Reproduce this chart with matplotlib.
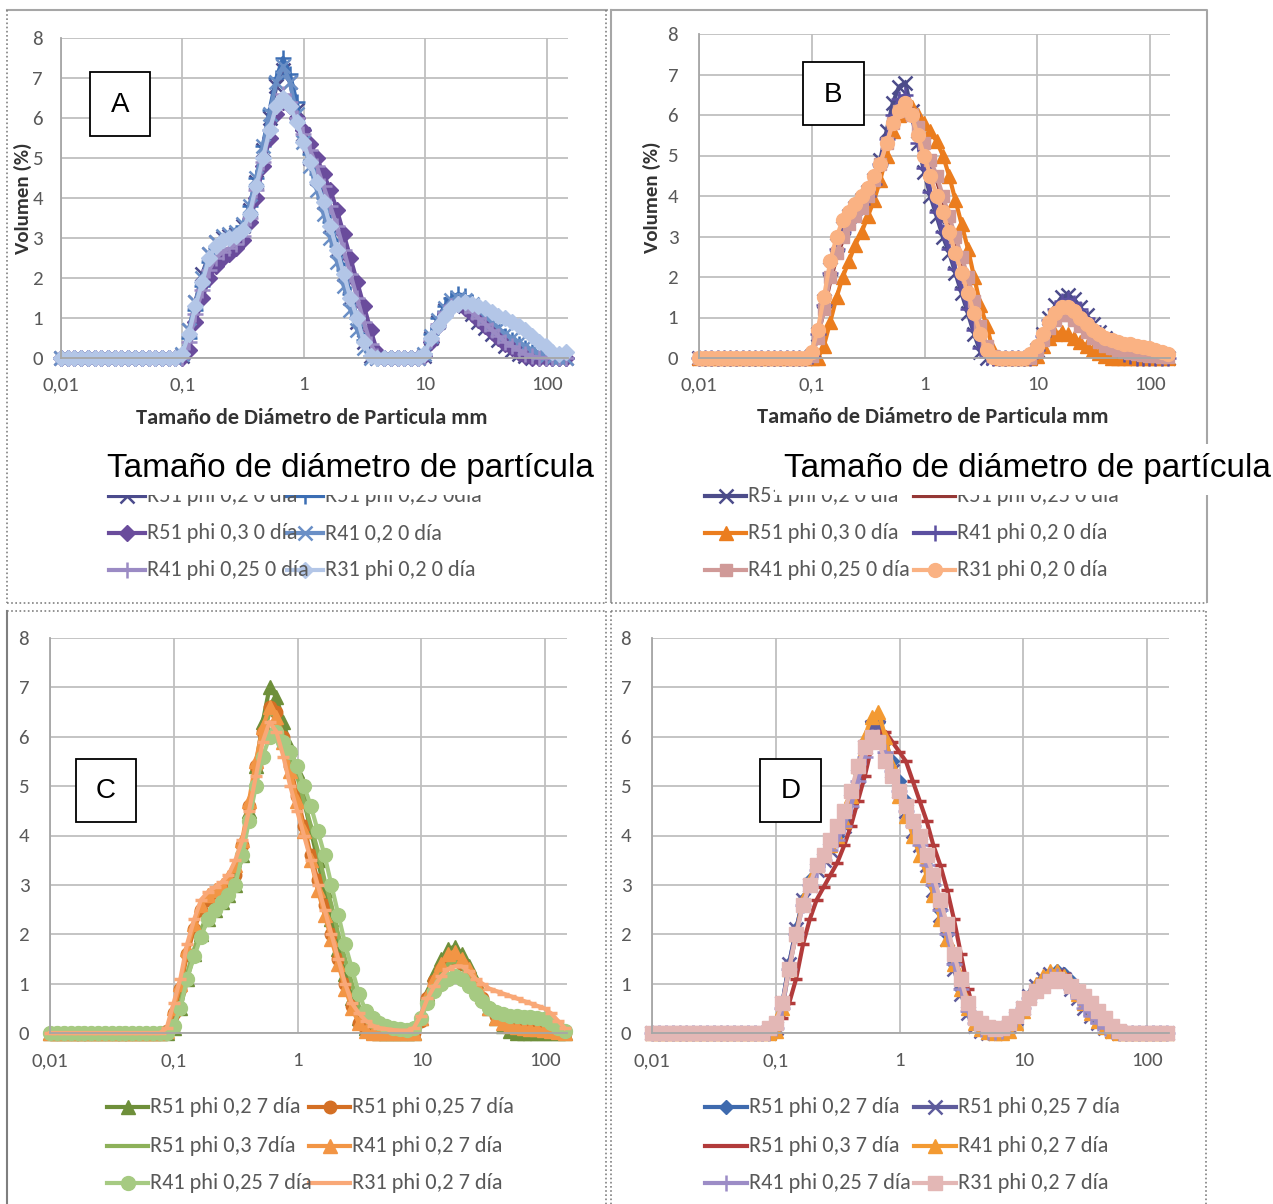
import matplotlib
matplotlib.use("Agg")
import matplotlib.pyplot as plt
from matplotlib import font_manager
from matplotlib.patches import Rectangle
from matplotlib.ticker import FixedLocator, FixedFormatter, NullLocator

W, H = 1273, 1204

# particle size classes (mm)
size_mm = [0.01, 0.0114, 0.0129, 0.0147, 0.0167, 0.0189, 0.0215, 0.0244, 0.0278, 0.0315,
           0.0358, 0.0407, 0.0463, 0.0526, 0.0597, 0.0679, 0.0771, 0.0876, 0.0995, 0.113,
           0.128, 0.146, 0.166, 0.188, 0.214, 0.243, 0.276, 0.314, 0.357, 0.405,
           0.46, 0.523, 0.594, 0.675, 0.767, 0.872, 0.991, 1.126, 1.279, 1.453,
           1.651, 1.875, 2.131, 2.421, 2.75, 3.125, 3.55, 4.034, 4.583, 5.207,
           5.916, 6.722, 7.637, 8.677, 9.858, 11.2, 12.73, 14.46, 16.43, 18.66,
           21.21, 24.09, 27.37, 31.1, 35.33, 40.14, 45.61, 51.82, 58.88, 66.89,
           76.0, 86.35, 98.11, 111.5, 126.6, 143.9]

x_ticks = [0.01, 0.1, 1, 10, 100]
x_tick_labels = ["0,01", "0,1", "1", "10", "100"]
y_ticks = [0, 1, 2, 3, 4, 5, 6, 7, 8]

# ---- panel A: day 0 ----
a_labels = ["R51 phi 0,2 0 dia", "R51 phi 0,25 0dia", "R51 phi 0,3 0 día",
            "R41 0,2 0 día", "R41 phi 0,25 0 día", "R31 phi 0,2 0 día"]
a_r51_02 = [0, 0, 0, 0, 0, 0, 0, 0, 0, 0, 0, 0, 0, 0, 0, 0, 0, 0,
            0.05, 0.7, 1.4, 2.1, 2.6, 2.9, 3.0, 3.05, 3.1, 3.3, 3.7, 4.4, 5.2, 6.0, 6.8, 7.2,
            6.9, 6.2, 5.6, 5.0, 4.5, 3.9, 3.3, 2.7, 2.1, 1.5, 0.9, 0.4, 0.05,
            0, 0, 0, 0, 0, 0, 0,
            0.05, 0.5, 0.9, 1.2, 1.35, 1.4, 1.3, 1.1, 0.9, 0.75, 0.6, 0.45, 0.3, 0.2, 0.1, 0.05,
            0, 0, 0, 0, 0, 0]
a_r51_025 = [0, 0, 0, 0, 0, 0, 0, 0, 0, 0, 0, 0, 0, 0, 0, 0, 0, 0,
             0.05, 0.5, 1.2, 1.8, 2.4, 2.75, 2.9, 3.0, 3.05, 3.3, 3.8, 4.5, 5.3, 6.2, 7.0, 7.5,
             7.1, 6.4, 5.7, 5.1, 4.6, 4.0, 3.4, 2.8, 2.2, 1.6, 1.0, 0.45, 0.05,
             0, 0, 0, 0, 0, 0, 0,
             0.1, 0.6, 1.0, 1.3, 1.5, 1.6, 1.55, 1.4, 1.2, 1.0, 0.85, 0.7, 0.55, 0.45, 0.35,
             0.25, 0.15, 0.08, 0.03, 0, 0, 0]
a_r51_03 = [0, 0, 0, 0, 0, 0, 0, 0, 0, 0, 0, 0, 0, 0, 0, 0, 0, 0,
            0, 0.2, 0.9, 1.5, 2.0, 2.3, 2.5, 2.6, 2.75, 2.95, 3.4, 4.0, 4.8, 5.5, 6.1, 6.4,
            6.3, 6.0, 5.7, 5.35, 5.0, 4.6, 4.2, 3.7, 3.1, 2.5, 1.9, 1.3, 0.7, 0.15,
            0, 0, 0, 0, 0, 0,
            0.05, 0.4, 0.8, 1.1, 1.3, 1.35, 1.25, 1.1, 0.95, 0.8, 0.65, 0.5, 0.35, 0.25, 0.12, 0.05,
            0, 0, 0, 0, 0, 0]
a_r41_02 = [0, 0, 0, 0, 0, 0, 0, 0, 0, 0, 0, 0, 0, 0, 0, 0, 0, 0,
            0.1, 0.7, 1.4, 2.0, 2.6, 2.9, 3.05, 3.1, 3.15, 3.35, 3.8, 4.5, 5.3, 6.1, 6.9, 7.3,
            6.9, 6.1, 5.4, 4.8, 4.2, 3.6, 3.0, 2.4, 1.8, 1.2, 0.7, 0.25, 0,
            0, 0, 0, 0, 0, 0, 0,
            0.1, 0.55, 0.95, 1.25, 1.45, 1.5, 1.45, 1.35, 1.2, 1.05, 0.9, 0.75, 0.6, 0.5, 0.4,
            0.3, 0.2, 0.12, 0.05, 0, 0, 0]
a_r41_025 = [0, 0, 0, 0, 0, 0, 0, 0, 0, 0, 0, 0, 0, 0, 0, 0, 0, 0,
             0, 0.4, 1.1, 1.7, 2.2, 2.5, 2.65, 2.75, 2.85, 3.05, 3.5, 4.2, 4.9, 5.7, 6.3, 6.6,
             6.4, 6.0, 5.6, 5.2, 4.8, 4.3, 3.8, 3.3, 2.7, 2.1, 1.5, 0.9, 0.35, 0.05,
             0, 0, 0, 0, 0, 0,
             0.05, 0.45, 0.85, 1.15, 1.3, 1.35, 1.3, 1.15, 1.0, 0.85, 0.7, 0.55, 0.4, 0.3, 0.2,
             0.1, 0.05, 0, 0, 0, 0, 0]
a_r31_02 = [0, 0, 0, 0, 0, 0, 0, 0, 0, 0, 0, 0, 0, 0, 0, 0, 0, 0,
            0.1, 0.6, 1.3, 1.9, 2.5, 2.8, 2.95, 3.0, 3.05, 3.2, 3.6, 4.3, 5.0, 5.7, 6.3, 6.5,
            6.3, 5.9, 5.4, 4.9, 4.4, 3.9, 3.3, 2.7, 2.1, 1.5, 1.0, 0.4, 0.05,
            0, 0, 0, 0, 0, 0, 0,
            0.1, 0.5, 0.8, 1.05, 1.25, 1.35, 1.4, 1.35, 1.3, 1.25, 1.15, 1.05, 1.0, 0.9, 0.8,
            0.7, 0.55, 0.4, 0.3, 0.15, 0.1, 0.15]

# ---- panel B: day 0 ----
b_labels = ["R51 phi 0,2 0 dia", "R51 phi 0,25 0 dia", "R51 phi 0,3 0 día",
            "R41 phi 0,2 0 día", "R41 phi 0,25 0 día", "R31 phi 0,2 0 día"]
b_r51_02 = [0, 0, 0, 0, 0, 0, 0, 0, 0, 0, 0, 0, 0, 0, 0, 0, 0, 0,
            0.05, 0.6, 1.4, 2.2, 2.8, 3.2, 3.5, 3.7, 3.9, 4.1, 4.4, 4.9, 5.6, 6.3, 6.7, 6.8,
            6.1, 5.3, 4.6, 4.0, 3.5, 3.0, 2.6, 2.1, 1.6, 1.1, 0.6, 0.15,
            0, 0, 0, 0, 0, 0, 0, 0,
            0.2, 0.6, 1.0, 1.3, 1.5, 1.55, 1.45, 1.25, 1.05, 0.85, 0.65, 0.5, 0.35, 0.2, 0.1, 0.05,
            0, 0, 0, 0, 0, 0]
b_r51_025 = [0, 0, 0, 0, 0, 0, 0, 0, 0, 0, 0, 0, 0, 0, 0, 0, 0, 0,
             0.05, 0.5, 1.2, 1.9, 2.5, 2.9, 3.2, 3.4, 3.6, 3.9, 4.3, 4.8, 5.3, 5.8, 6.1, 6.2,
             6.0, 5.6, 5.2, 4.8, 4.4, 3.9, 3.4, 2.9, 2.4, 1.9, 1.3, 0.7, 0.25, 0.03,
             0, 0, 0, 0, 0, 0,
             0.15, 0.45, 0.75, 0.95, 1.05, 1.05, 0.95, 0.8, 0.65, 0.5, 0.4, 0.3, 0.25, 0.2, 0.15,
             0.12, 0.1, 0.08, 0.06, 0.05, 0.03, 0.02]
b_r51_03 = [0, 0, 0, 0, 0, 0, 0, 0, 0, 0, 0, 0, 0, 0, 0, 0, 0, 0,
            0, 0, 0.3, 0.9, 1.5, 2.0, 2.4, 2.8, 3.1, 3.5, 3.9, 4.4, 5.0, 5.6, 6.0, 6.3,
            6.2, 6.0, 5.8, 5.6, 5.35, 5.0, 4.5, 3.9, 3.3, 2.7, 2.0, 1.3, 0.8, 0.2,
            0, 0, 0, 0, 0, 0,
            0.05, 0.3, 0.5, 0.6, 0.65, 0.6, 0.5, 0.4, 0.3, 0.2, 0.12, 0.05,
            0, 0, 0, 0, 0, 0, 0, 0, 0, 0]
b_r41_02 = [0, 0, 0, 0, 0, 0, 0, 0, 0, 0, 0, 0, 0, 0, 0, 0, 0, 0,
            0.05, 0.6, 1.3, 2.1, 2.7, 3.1, 3.4, 3.6, 3.8, 4.0, 4.3, 4.8, 5.4, 6.0, 6.4, 6.5,
            6.0, 5.3, 4.7, 4.1, 3.6, 3.1, 2.7, 2.2, 1.7, 1.2, 0.7, 0.25, 0.02,
            0, 0, 0, 0, 0, 0, 0,
            0.2, 0.55, 0.95, 1.2, 1.4, 1.45, 1.35, 1.2, 1.0, 0.8, 0.6, 0.45, 0.3, 0.2, 0.1, 0.05,
            0, 0, 0, 0, 0, 0]
b_r41_025 = [0, 0, 0, 0, 0, 0, 0, 0, 0, 0, 0, 0, 0, 0, 0, 0, 0, 0,
             0.05, 0.5, 1.2, 2.0, 2.6, 3.0, 3.3, 3.5, 3.7, 4.0, 4.4, 4.8, 5.3, 5.8, 6.1, 6.2,
             6.0, 5.7, 5.3, 4.9, 4.5, 4.0, 3.5, 3.0, 2.5, 2.0, 1.4, 0.8, 0.3, 0.05,
             0, 0, 0, 0, 0, 0,
             0.15, 0.45, 0.75, 0.95, 1.05, 1.05, 0.95, 0.8, 0.65, 0.5, 0.4, 0.3, 0.25, 0.2, 0.15,
             0.12, 0.1, 0.08, 0.06, 0.05, 0.03, 0.02]
b_r31_02 = [0, 0, 0, 0, 0, 0, 0, 0, 0, 0, 0, 0, 0, 0, 0, 0, 0, 0,
            0.15, 0.7, 1.5, 2.4, 3.0, 3.4, 3.6, 3.8, 4.0, 4.2, 4.5, 4.8, 5.3, 5.8, 6.1, 6.3,
            6.0, 5.5, 5.0, 4.5, 4.0, 3.6, 3.1, 2.6, 2.1, 1.6, 1.1, 0.6, 0.2, 0.02,
            0, 0, 0, 0, 0,
            0.1, 0.3, 0.6, 0.9, 1.1, 1.25, 1.25, 1.15, 1.0, 0.85, 0.7, 0.6, 0.5, 0.45, 0.4,
            0.35, 0.35, 0.3, 0.28, 0.25, 0.2, 0.15, 0.1]

# ---- panel C: day 7 ----
c_labels = ["R51 phi 0,2 7 día", "R51 phi 0,25 7 día", "R51 phi 0,3 7día",
            "R41 phi 0,2 7 día", "R41 phi 0,25 7 día", "R31 phi 0,2 7 día"]
c_r51_02 = [0, 0, 0, 0, 0, 0, 0, 0, 0, 0, 0, 0, 0, 0, 0, 0, 0, 0,
            0.1, 0.5, 1.1, 1.6, 2.0, 2.3, 2.5, 2.65, 2.8, 3.0, 3.6, 4.5, 5.4, 6.3, 7.0, 6.8,
            6.3, 5.8, 5.3, 4.7, 4.1, 3.5, 2.9, 2.3, 1.7, 1.2, 0.7, 0.3, 0.1, 0.03,
            0, 0, 0, 0, 0, 0,
            0.3, 0.8, 1.2, 1.5, 1.7, 1.75, 1.6, 1.35, 1.05, 0.75, 0.5, 0.3, 0.15, 0.05,
            0, 0, 0, 0, 0, 0, 0, 0]
c_r51_025 = [0, 0, 0, 0, 0, 0, 0, 0, 0, 0, 0, 0, 0, 0, 0, 0, 0,
             0.05, 0.4, 0.9, 1.6, 2.1, 2.5, 2.7, 2.85, 2.95, 3.05, 3.2, 3.8, 4.6, 5.4, 6.1, 6.6,
             6.5, 6.0, 5.4, 4.8, 4.2, 3.6, 3.1, 2.6, 2.0, 1.5, 1.0, 0.55, 0.2, 0.05,
             0, 0, 0, 0, 0, 0, 0,
             0.25, 0.7, 1.05, 1.3, 1.45, 1.5, 1.4, 1.2, 0.95, 0.7, 0.5, 0.35, 0.25, 0.2, 0.15,
             0.15, 0.12, 0.1, 0.1, 0.08, 0.05, 0]
c_r51_03 = [0, 0, 0, 0, 0, 0, 0, 0, 0, 0, 0, 0, 0, 0, 0, 0, 0,
            0, 0.15, 0.6, 1.2, 1.7, 2.1, 2.4, 2.6, 2.75, 2.9, 3.1, 3.7, 4.5, 5.3, 6.0, 6.5,
            6.4, 6.0, 5.6, 5.2, 4.7, 4.2, 3.7, 3.1, 2.6, 2.0, 1.5, 1.0, 0.55, 0.25, 0.1, 0.05,
            0, 0, 0, 0, 0,
            0.3, 0.7, 1.0, 1.25, 1.4, 1.45, 1.35, 1.15, 0.9, 0.65, 0.45, 0.3, 0.2, 0.15, 0.1,
            0.08, 0.05, 0, 0, 0, 0, 0]
c_r41_02 = [0, 0, 0, 0, 0, 0, 0, 0, 0, 0, 0, 0, 0, 0, 0, 0, 0,
            0.05, 0.5, 1.0, 1.7, 2.2, 2.6, 2.8, 2.9, 3.0, 3.15, 3.4, 3.9, 4.7, 5.5, 6.2, 6.6,
            6.4, 5.9, 5.3, 4.7, 4.1, 3.5, 2.9, 2.4, 1.9, 1.4, 0.9, 0.5, 0.2, 0.05,
            0, 0, 0, 0, 0, 0, 0,
            0.3, 0.75, 1.1, 1.4, 1.6, 1.65, 1.5, 1.3, 1.0, 0.75, 0.5, 0.3, 0.2, 0.15, 0.12,
            0.1, 0.08, 0.08, 0.06, 0.05, 0.03, 0]
c_r41_025 = [0, 0, 0, 0, 0, 0, 0, 0, 0, 0, 0, 0, 0, 0, 0, 0, 0,
             0, 0.15, 0.5, 1.1, 1.55, 1.95, 2.3, 2.5, 2.65, 2.8, 3.0, 3.6, 4.3, 5.0, 5.6, 6.0,
             6.1, 5.9, 5.7, 5.4, 5.0, 4.6, 4.1, 3.6, 3.0, 2.4, 1.8, 1.3, 0.8, 0.45, 0.3, 0.2,
             0.15, 0.1, 0.08, 0.07, 0.1, 0.3, 0.6, 0.85, 1.0, 1.1, 1.15, 1.1, 0.95, 0.8, 0.65,
             0.5, 0.42, 0.38, 0.35, 0.35, 0.33, 0.32, 0.3, 0.28, 0.2, 0.1, 0.05]
c_r31_02 = [0, 0, 0, 0, 0, 0, 0, 0, 0, 0, 0, 0, 0, 0, 0, 0, 0,
            0.1, 0.6, 1.1, 1.8, 2.3, 2.7, 2.85, 2.95, 3.05, 3.2, 3.5, 3.9, 4.5, 5.2, 5.9, 6.3,
            6.1, 5.6, 5.0, 4.5, 4.0, 3.5, 3.0, 2.5, 2.0, 1.5, 1.0, 0.6, 0.4, 0.25, 0.15, 0.1,
            0.08, 0.06, 0.05, 0.05, 0.1, 0.35, 0.7, 0.95, 1.15, 1.3, 1.35, 1.35, 1.25, 1.1,
            1.0, 0.9, 0.85, 0.8, 0.75, 0.7, 0.65, 0.6, 0.55, 0.5, 0.4, 0.25, 0.1]

# ---- panel D: day 7 ----
d_labels = ["R51 phi 0,2 7 día", "R51 phi 0,25 7 día", "R51 phi 0,3 7 día",
            "R41 phi 0,2 7 día", "R41 phi 0,25 7 día", "R31 phi 0,2 7 día"]
d_r51_02 = [0, 0, 0, 0, 0, 0, 0, 0, 0, 0, 0, 0, 0, 0, 0, 0, 0,
            0, 0.1, 0.6, 1.4, 2.1, 2.7, 3.1, 3.4, 3.6, 3.8, 4.0, 4.3, 4.8, 5.3, 5.9, 6.3,
            6.3, 5.9, 5.5, 5.1, 4.7, 4.3, 3.9, 3.5, 3.0, 2.5, 2.0, 1.4, 0.9, 0.45, 0.2, 0.1,
            0.05, 0.02, 0.05, 0.15, 0.3, 0.5, 0.75, 0.95, 1.1, 1.2, 1.25, 1.2, 1.05, 0.85,
            0.6, 0.4, 0.25, 0.12, 0.05, 0, 0, 0, 0, 0, 0, 0, 0]
d_r51_025 = [0, 0, 0, 0, 0, 0, 0, 0, 0, 0, 0, 0, 0, 0, 0, 0, 0,
             0, 0.1, 0.6, 1.4, 2.1, 2.7, 3.0, 3.3, 3.5, 3.7, 3.9, 4.2, 4.7, 5.2, 5.8, 6.2,
             6.2, 5.8, 5.3, 4.9, 4.5, 4.1, 3.8, 3.4, 2.9, 2.4, 1.9, 1.3, 0.8, 0.4, 0.15, 0.05,
             0, 0, 0.05, 0.15, 0.3, 0.5, 0.75, 0.95, 1.1, 1.2, 1.2, 1.1, 0.9, 0.7,
             0.5, 0.35, 0.2, 0.1, 0.05, 0, 0, 0, 0, 0, 0, 0, 0]
d_r51_03 = [0, 0, 0, 0, 0, 0, 0, 0, 0, 0, 0, 0, 0, 0, 0, 0, 0,
            0, 0, 0.3, 0.6, 1.1, 1.8, 2.3, 2.7, 2.95, 3.2, 3.45, 3.8, 4.2, 4.7, 5.2, 5.8,
            6.1, 6.1, 5.9, 5.7, 5.5, 5.1, 4.7, 4.3, 3.8, 3.4, 2.9, 2.3, 1.6, 0.9, 0.4, 0.15,
            0.05, 0.02, 0.05, 0.15, 0.3, 0.5, 0.75, 0.95, 1.1, 1.2, 1.25, 1.2, 1.05, 0.85,
            0.65, 0.45, 0.3, 0.15, 0.05, 0, 0, 0, 0, 0, 0, 0, 0]
d_r41_02 = [0, 0, 0, 0, 0, 0, 0, 0, 0, 0, 0, 0, 0, 0, 0, 0, 0,
            0, 0.05, 0.5, 1.3, 2.0, 2.7, 3.1, 3.4, 3.6, 3.8, 4.0, 4.3, 4.8, 5.4, 6.0, 6.4,
            6.5, 6.0, 5.4, 4.8, 4.4, 4.0, 3.6, 3.2, 2.8, 2.3, 1.9, 1.4, 0.9, 0.5, 0.2, 0.08,
            0.02, 0, 0, 0.05, 0.2, 0.45, 0.75, 1.0, 1.15, 1.25, 1.25, 1.15, 1.0, 0.8,
            0.6, 0.4, 0.25, 0.12, 0.05, 0, 0, 0, 0, 0, 0, 0, 0]
d_r41_025 = [0, 0, 0, 0, 0, 0, 0, 0, 0, 0, 0, 0, 0, 0, 0, 0, 0,
             0, 0.1, 0.5, 1.3, 2.0, 2.6, 3.0, 3.3, 3.5, 3.7, 3.9, 4.2, 4.6, 5.1, 5.6, 6.0,
             6.0, 5.7, 5.3, 4.9, 4.5, 4.2, 3.8, 3.4, 3.0, 2.5, 2.0, 1.4, 0.9, 0.45, 0.2, 0.08,
             0.03, 0.02, 0.05, 0.15, 0.3, 0.5, 0.7, 0.9, 1.05, 1.15, 1.15, 1.05, 0.9, 0.7,
             0.5, 0.35, 0.2, 0.1, 0.05, 0, 0, 0, 0, 0, 0, 0, 0]
d_r31_02 = [0, 0, 0, 0, 0, 0, 0, 0, 0, 0, 0, 0, 0, 0, 0, 0, 0,
            0.1, 0.2, 0.6, 1.3, 2.0, 2.6, 3.0, 3.4, 3.6, 3.9, 4.2, 4.5, 4.9, 5.4, 5.8, 6.0,
            5.9, 5.5, 5.2, 4.9, 4.6, 4.3, 4.0, 3.6, 3.2, 2.7, 2.2, 1.6, 1.1, 0.6, 0.3, 0.2,
            0.12, 0.08, 0.1, 0.2, 0.35, 0.5, 0.7, 0.85, 0.95, 1.05, 1.1, 1.05, 0.95, 0.85,
            0.75, 0.6, 0.45, 0.3, 0.15, 0.05, 0, 0, 0, 0, 0, 0, 0]

# series styles: (colour, marker, marker size, marker edge width); "_" = tick marks not shown in legend
a_styles = [("#4B4B8C", "x", 10, 1.8), ("#3C6EB4", "+", 12, 1.8), ("#6A4C9C", "D", 8, 1.0),
            ("#6A8FC6", "x", 10, 1.8), ("#9B8BC4", "+", 12, 1.8), ("#B3C6E7", "D", 8, 1.0)]
b_styles = [("#4C4C8A", "x", 10, 1.8), ("#953735", "", 0, 0), ("#EB7D1E", "^", 10, 1.0),
            ("#5B4FA0", "+", 12, 1.8), ("#D09A98", "s", 9, 1.0), ("#FAB283", "o", 10, 1.0)]
c_styles = [("#6E8F3A", "^", 10, 1.0), ("#D46F24", "o", 9, 1.0), ("#8DB15A", "", 0, 0),
            ("#F29545", "^", 10, 1.0), ("#A6CA82", "o", 10, 1.0), ("#F9A877", "_", 8, 2.5)]
d_styles = [("#3E6AAE", "D", 7, 1.0), ("#5E5C9C", "x", 10, 1.8), ("#B23B3B", "_", 8, 2.5),
            ("#F39A32", "^", 10, 1.0), ("#9C8CC6", "+", 12, 1.8), ("#E3B7B5", "s", 10, 1.0)]

names = {f.name for f in font_manager.fontManager.ttflist}
if "Carlito" in names:
    UI_FONT, FS = "Carlito", 16
else:
    UI_FONT, FS = "Lato", 15
GRAY_TXT = "#595959"

fig = plt.figure(figsize=(W / 100, H / 100), dpi=100)
fig.patch.set_facecolor("white")


def px_axes(left, top, right, bottom):
    return fig.add_axes([left / W, 1 - bottom / H, (right - left) / W, (bottom - top) / H])


def draw_panel(rect, series, styles, ypad, xpad):
    ax = px_axes(*rect)
    for vals, (col, mk, ms, mew) in zip(series, styles):
        ax.plot(size_mm, vals, color=col, lw=3, marker=mk if mk else None,
                ms=ms, mew=mew, mec=col, mfc=col, clip_on=False)
    ax.set_xscale("log")
    ax.set_xlim(0.01, 150)
    ax.set_ylim(0, 8)
    ax.xaxis.set_major_locator(FixedLocator(x_ticks))
    ax.xaxis.set_major_formatter(FixedFormatter(x_tick_labels))
    ax.xaxis.set_minor_locator(NullLocator())
    ax.set_yticks(y_ticks)
    ax.grid(True, color="#BFBFBF", lw=1.3)
    ax.set_axisbelow(True)
    for s in ["top", "right"]:
        ax.spines[s].set_visible(False)
    for s in ["left", "bottom"]:
        ax.spines[s].set_color("#A6A6A6")
        ax.spines[s].set_linewidth(1.3)
    ax.tick_params(length=0, labelsize=FS - 1, labelcolor=GRAY_TXT)
    ax.tick_params(axis="y", pad=ypad)
    ax.tick_params(axis="x", pad=xpad)
    for t in ax.get_xticklabels() + ax.get_yticklabels():
        t.set_fontfamily(UI_FONT)
    return ax


draw_panel((61, 38, 568, 358), [a_r51_02, a_r51_025, a_r51_03, a_r41_02, a_r41_025, a_r31_02],
           a_styles, 13, 13)
draw_panel((699, 34, 1170, 358), [b_r51_02, b_r51_025, b_r51_03, b_r41_02, b_r41_025, b_r31_02],
           b_styles, 15, 13)
draw_panel((50, 638, 567, 1033), [c_r51_02, c_r51_025, c_r51_03, c_r41_02, c_r41_025, c_r31_02],
           c_styles, 15, 14)
draw_panel((652, 638, 1169, 1033), [d_r51_02, d_r51_025, d_r51_03, d_r41_02, d_r41_025, d_r31_02],
           d_styles, 15, 14)

# overlay in pixel coordinates for frames, labels, legends
ov = fig.add_axes([0, 0, 1, 1], zorder=5)
ov.set_xlim(0, W)
ov.set_ylim(H, 0)
ov.axis("off")
ov.patch.set_visible(False)

dot = dict(color="#808080", lw=1.2, ls=(0, (1, 1.5)), zorder=1)
solid = dict(color="#A6A6A6", lw=1.5, zorder=1)
# panel A frame
ov.plot([7, 607], [10, 10], **solid)
ov.plot([7, 7], [10, 603], **dot)
ov.plot([606, 606], [10, 603], **dot)
ov.plot([7, 606], [603, 603], **dot)
# panel B frame
ov.plot([611, 1207, 1207], [10, 10, 602], **solid)
ov.plot([611, 611], [10, 602], **solid)
ov.plot([611, 1207], [603, 603], **dot)
# panel C frame
ov.plot([7, 606], [611, 611], **dot)
ov.plot([7, 7], [611, 1204], color="#7F7F7F", lw=1.5, zorder=1)
ov.plot([606, 606], [611, 1204], **dot)
# panel D frame
ov.plot([611, 1206], [611, 611], **dot)
ov.plot([611, 611], [611, 1204], **dot)
ov.plot([1206, 1206], [611, 1204], **dot)

# axis titles (panels A and B)
for cx, cy in [(312, 418), (933, 417)]:
    ov.text(cx, cy, "Tamaño de Diámetro de Particula mm", ha="center", va="center",
            fontsize=FS, fontweight="bold", family=UI_FONT, color="#333333")
for cx, cy in [(23, 198), (652, 197)]:
    ov.text(cx, cy, "Volumen (%)", ha="center", va="center", rotation=90,
            fontsize=FS - 1, fontweight="bold", family=UI_FONT, color="#333333")

# panel letters
for (x0, y0, x1, y1), letter in [((90, 72, 150, 136), "A"), ((803, 62, 864, 125), "B"),
                                  ((76, 759, 136, 822), "C"), ((760, 759, 821, 822), "D")]:
    ov.add_patch(Rectangle((x0, y0), x1 - x0, y1 - y0, facecolor="white",
                           edgecolor="black", lw=1.3, zorder=6))
    ov.text((x0 + x1) / 2, (y0 + y1) / 2 + 1, letter, ha="center", va="center",
            fontsize=20, family="Liberation Sans", color="black", zorder=7)


# legends (Excel style: two columns, filled row by row)
def draw_legend(labels, styles, col_x, text_x, rows, hlen):
    for k, (lab, (col, mk, ms, mew)) in enumerate(zip(labels, styles)):
        r, c = divmod(k, 2)
        y = rows[r]
        x0 = col_x[c]
        show = mk if mk and mk != "_" else None
        ov.plot([x0, x0 + hlen / 2, x0 + hlen], [y, y, y], color=col, lw=3,
                marker=show, markevery=[1], ms=ms, mew=mew,
                mec=col, mfc=col, zorder=2)
        ov.text(text_x[c], y, lab, ha="left", va="center", fontsize=FS,
                family=UI_FONT, color=GRAY_TXT, zorder=3)


draw_legend(a_labels, a_styles, (109, 287), (147, 325), (496, 533, 570), 36)
draw_legend(b_labels, b_styles, (705, 914), (748, 957), (496, 533, 570), 41)
draw_legend(c_labels, c_styles, (107, 309), (150, 352), (1107, 1146, 1183), 41)
draw_legend(d_labels, d_styles, (705, 914), (749, 958), (1107, 1146, 1183), 42)

# pasted captions over the top legends
for (x0, x1), cx in [((100, 600), 350), ((775, 1273), 1027)]:
    ov.add_patch(Rectangle((x0, 444), x1 - x0, 51, facecolor="white", edgecolor="none", zorder=4))
    ov.text(cx, 468, "Tamaño de diámetro de partícula", ha="center", va="center",
            fontsize=24, family="Liberation Sans", color="black", zorder=5)

fig.savefig("out.png", dpi=100, facecolor="white")
